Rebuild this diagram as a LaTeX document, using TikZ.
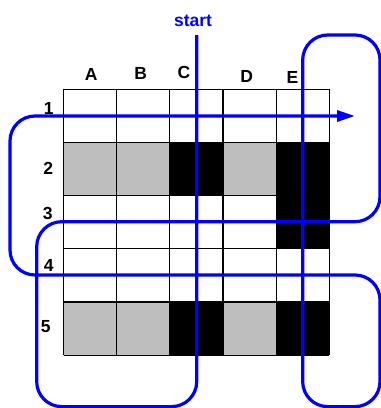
\documentclass[tikz,border=0pt]{standalone}
\usepackage{fontspec}
\setmainfont{Liberation Sans}
\usetikzlibrary{arrows.meta}
\definecolor{cellgray}{RGB}{190,190,190}
\tikzset{
  lbl/.style={inner sep=0pt, font=\fontsize{17.5}{20}\selectfont\bfseries},
  gridline/.style={line width=1.2pt, black},
  route/.style={line width=3.2pt, blue, rounded corners=25pt},
}
\begin{document}
\begin{tikzpicture}[x=1pt,y=-1pt]
\useasboundingbox (0,0) rectangle (381,408);
\def\cw{53.16}
% fills
\foreach \c/\r/\f in {0/1/cellgray,1/1/cellgray,2/1/black,3/1/cellgray,4/1/black,
                      4/2/black,
                      0/4/cellgray,1/4/cellgray,2/4/black,3/4/cellgray,4/4/black}{
  \fill[\f] ({63.5+\c*\cw},{89.3+\r*\cw}) rectangle ({63.5+(\c+1)*\cw},{89.3+(\r+1)*\cw});
}
% grid
\foreach \i in {0,...,5}{
  \draw[gridline] ({63.5+\i*\cw},89.3) -- ({63.5+\i*\cw},{89.3+5*\cw});
  \draw[gridline] (63.5,{89.3+\i*\cw}) -- ({63.5+5*\cw},{89.3+\i*\cw});
}
% column labels
\node[lbl] (cA) at (91.2,74.7) {A};
\node[lbl] (cB) at (140.7,73.3) {B};
\node[lbl] (cC) at (184,72.5) {C};
\node[lbl] (cD) at (246.7,76.3) {D};
\node[lbl] (cE) at (292.5,77) {E};
% row labels
\node[lbl] (r1) at (48.7,108.8) {1};
\node[lbl] (r2) at (48.3,168.3) {2};
\node[lbl] (r3) at (47.7,213.3) {3};
\node[lbl] (r4) at (48.8,265.5) {4};
\node[lbl] (r5) at (45.8,326.7) {5};
% start
\node[lbl, text=blue] (start) at (193,20.5) {start};
\coordinate (s0) at (196.7,35);
\coordinate (end) at (355,116);
\draw[route, -{Triangle[length=18pt,width=11pt]}]
  (s0) -- (196.7,406.6) -- (36.7,406.6) -- (36.7,221.7) -- (380,221.7)
  -- (380,35) -- (302.7,35) -- (302.7,406.6) -- (380,406.6) -- (380,275)
  -- (10,275) -- (10,116) -- (end);
\end{tikzpicture}
\end{document}
